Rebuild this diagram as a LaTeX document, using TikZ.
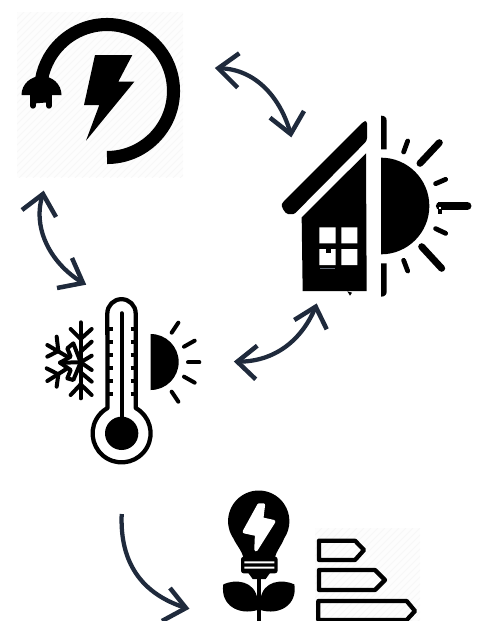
\documentclass[tikz,border=0pt]{standalone}
\definecolor{arrowink}{HTML}{1F2A3C}
\definecolor{hatchink}{HTML}{F7F7F7}
\tikzset{
  curveline/.style={draw=arrowink,line width=3.2pt,line cap=butt},
  barbline/.style={draw=arrowink,line width=3.4pt,line join=miter,miter limit=10,line cap=butt},
  ink/.style={fill=black,draw=none},
  ray/.style={draw=black,line cap=round},
  zoomed/.style={x=0.25pt,y=-0.25pt},
}
\begin{document}
\begin{tikzpicture}[x=0.75pt,y=-0.75pt]
\path[use as bounding box] (0,0) rectangle (482,621);
\clip (0,0) rectangle (482,621);
% hatched backgrounds
\begin{scope}
  \clip (17,12) rectangle (183,177);
  \fill[white!99.4!black] (17,12) rectangle (183,177);
  \foreach \k in {0,7,...,340} {\draw[hatchink,line width=0.6pt] (17+\k,12) -- (17+\k-170,182);}
\end{scope}
\begin{scope}
  \clip (315,528) rectangle (420,621);
  \fill[white!99.4!black] (315,528) rectangle (420,621);
  \foreach \k in {0,7,...,210} {\draw[hatchink,line width=0.6pt] (315+\k,528) -- (315+\k-100,628);}
\end{scope}
% plug icon
\draw[black,line width=9.8pt] (107,157.5) arc[start angle=90,end angle=-190,radius=66.5] -- (41,86);
\fill[black] (21.5,95) .. controls (21.5,84) and (31,76) .. (41.5,76) .. controls (52,76) and (61.5,84) .. (61.5,95) -- cycle;
\draw[black,line width=4pt,line cap=round] (33,94) -- (33,106);
\draw[black,line width=4pt,line cap=round] (49,94) -- (49,106);
\fill[black] (95,55) -- (132.3,55) -- (118.3,81.7) -- (134.3,81.7) -- (86,140.7) -- (99.3,105) -- (84,105) -- cycle;
% house and sun
\begin{scope}[shift={(270,100)},zoomed]
  \fill[black,rounded corners=2pt] (291,62) -- (280,65) -- (40,305) .. controls (32,318) and (45,342) .. (62,342) .. controls (72,342) and (78,337) .. (82,333) -- (291,122) -- cycle;
  \fill[black] (95,352) -- (288,160) -- (290,573) -- (98,573) -- cycle;
  \fill[white] (148,382) rectangle (197,430) (214,382) rectangle (262,430) (148,447) rectangle (197,495) (214,447) rectangle (262,495);
  \fill[black] (168,458) rectangle (183,447);
  \fill[arrowink!70!white] (150,503) rectangle (195,508);
  \fill[black] (232,574) -- (246,578) -- (240,587) -- cycle;
  \fill[black] (333,173) arc[start angle=-90,end angle=90,radius=145] -- cycle;
  \fill[black] (333,47) .. controls (343,47) and (350,52) .. (350,62) -- (350,148) -- (333,148) -- cycle;
  \fill[black] (333,490) -- (350,490) -- (350,575) .. controls (350,585) and (343,590) .. (333,590) -- cycle;
  \draw[ray,line width=5.2pt] (508,128) -- (450,190);
  \draw[ray,line width=5.2pt] (515,505) -- (455,440);
  \draw[ray,line width=6.2pt] (592,318) -- (510,318);
  \fill[black] (505,305) rectangle (515,342);
  \fill[white] (507,320) rectangle (513,327);
  \draw[ray,line width=3.6pt] (413,123) -- (401,156);
  \draw[ray,line width=3.6pt] (527,238) -- (497,251);
  \draw[ray,line width=3.6pt] (527,400) -- (497,386);
  \draw[ray,line width=3.6pt] (413,513) -- (401,481);
\end{scope}
% thermometer
\begin{scope}[shift={(30,290)},zoomed]
  \draw[black,line width=3.2pt,line join=round] (232,70) arc[start angle=180,end angle=360,radius=42.5] -- (317,354) arc[start angle=-61,end angle=241,radius=87] -- cycle;
  \fill[black] (275,430) circle[radius=50];
  \draw[black,line width=3.2pt,line cap=round] (275,70) -- (275,400);
  \foreach \ty in {118,155,195,235,272,312} {
    \draw[black,line width=3.2pt] (232,\ty) -- (248,\ty);
    \draw[black,line width=3.2pt] (302,\ty) -- (317,\ty);
  }
  \fill[black] (362,132) arc[start angle=-90,end angle=90,radius=84] -- cycle;
  \draw[ray,line width=3pt] (445,98) -- (425,128);
  \draw[ray,line width=3pt] (494,152) -- (462,170);
  \draw[ray,line width=3pt] (508,217) -- (474,217);
  \draw[ray,line width=3pt] (494,278) -- (462,260);
  \draw[ray,line width=3pt] (445,335) -- (425,305);
\end{scope}
% snowflake
\begin{scope}[shift={(40,315)},zoomed,every path/.style={draw=black,line width=3pt,line cap=round,line join=round}]
  \path (122,22) -- (122,250);
  \path (92,42) -- (122,72) -- (155,42);
  \path (122,110) -- (155,80);
  \path (122,142) -- (155,122);
  \path (122,142) -- (155,165);
  \path (122,172) -- (155,200);
  \path (92,240) -- (122,208) -- (155,240);
  \path (122,142) -- (100,85) -- (82,100) -- (92,125) -- (60,143) -- (92,165) -- (82,190) -- (100,195) -- (122,142);
  \path (60,143) -- (122,142);
  \path (82,125) -- (22,90);
  \path (50,65) -- (55,108);
  \path (22,125) -- (55,108);
  \path (82,160) -- (22,198);
  \path (20,160) -- (55,178);
  \path (50,215) -- (55,178);
\end{scope}
% bulb
\begin{scope}[shift={(215,485)},zoomed]
  \draw[black,line width=2.6pt] (132,280) -- (132,420);
  \fill[black] (55,160) arc[start angle=146,end angle=394,radius=92] .. controls (198,185) and (185,195) .. (180,218) -- (85,218) .. controls (80,195) and (67,185) .. (55,160) -- cycle;
  \fill[black,rounded corners=2pt] (78,215) rectangle (188,265);
  \fill[white] (88,229) rectangle (178,235) (88,245) rectangle (178,251);
  \fill[black] (100,264) -- (165,264) -- (152,282) -- (113,282) -- cycle;
  \fill[black] (25,298) .. controls (60,282) and (120,285) .. (128,345) -- (128,375) .. controls (70,392) and (15,360) .. (25,298) -- cycle;
  \fill[black] (238,298) .. controls (203,282) and (143,285) .. (136,345) -- (136,375) .. controls (193,392) and (248,360) .. (238,298) -- cycle;
  \filldraw[white,draw=white,line width=2.6pt,line join=round] (132,60) -- (88,140) -- (125,148) -- (123,194) -- (176,110) -- (140,102) -- (145,60) -- cycle;
\end{scope}
% energy bars
\begin{scope}[shift={(310,525)},zoomed,every path/.style={draw=black,line width=3.2pt,line join=round}]
  \path (27,47) -- (135,47) -- (162,75) -- (135,105) -- (27,105) -- cycle;
  \path (27,135) -- (195,135) -- (225,165) -- (195,195) -- (27,195) -- cycle;
  \path (25,228) -- (290,228) -- (315,258) -- (290,285) -- (25,285) -- cycle;
\end{scope}
% arrows
\coordinate (tipA) at (218.3,68.3);
\coordinate (tipB) at (290.7,134);
\coordinate (tipC) at (43,194);
\coordinate (tipD) at (83,283);
\coordinate (tipE) at (315.7,306.7);
\coordinate (tipF) at (237.3,361.7);
\coordinate (startG) at (121.7,514);
\coordinate (tipG) at (186,608);
\draw[curveline] (tipA) .. controls (253,68) and (280,95) .. (tipB);
\draw[barbline] (239.3,53.3) -- (tipA) -- (237.7,87.7);
\draw[barbline] (270,117.7) -- (tipB) -- (304,111);
\draw[curveline] (tipC) .. controls (32,225) and (48,262) .. (tipD);
\draw[barbline] (22,210) -- (tipC) -- (56,217);
\draw[barbline] (72,258) -- (tipD) -- (57,288);
\draw[curveline] (tipE) .. controls (302,340) and (275,362) .. (tipF);
\draw[barbline] (294.3,320) -- (tipE) -- (326.7,329.3);
\draw[barbline] (257.3,345.7) -- (tipF) -- (255.7,379.3);
\draw[curveline] (startG) .. controls (120,555) and (135,592) .. (tipG);
\draw[barbline] (170,588) -- (tipG) -- (162,621);
\end{tikzpicture}
\end{document}
